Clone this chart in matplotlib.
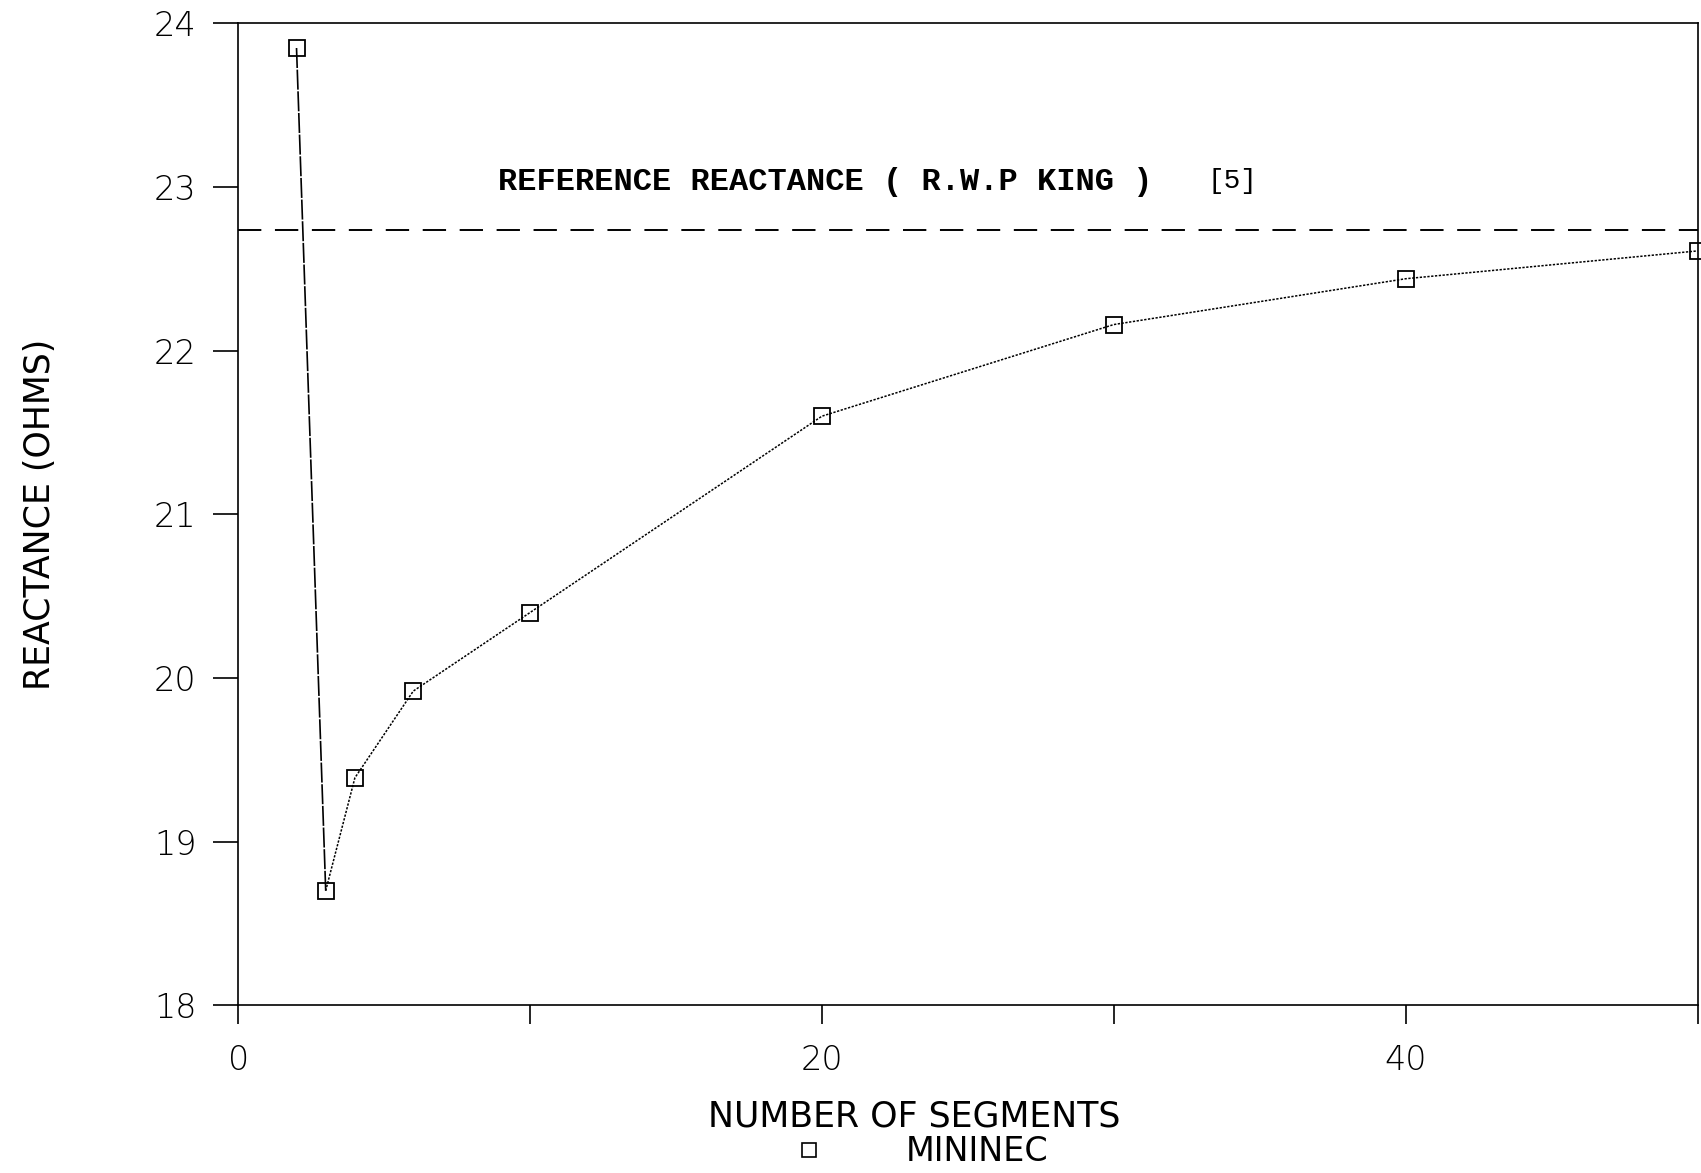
import matplotlib.pyplot as plt
from matplotlib.lines import Line2D

# ---------- data ----------
segments = [2, 3, 4, 6, 10, 20, 30, 40, 50]
reactance = [23.85, 18.70, 19.39, 19.92, 20.40, 21.60, 22.16, 22.44, 22.61]
reference_reactance = 22.74

x_ticks = [0, 10, 20, 30, 40, 50]
x_ticklabels = ["0", "", "20", "", "40", ""]
y_ticks = [18, 19, 20, 21, 22, 23, 24]

plt.rcParams.update({
    "font.family": ["DejaVu Sans"],
    "axes.linewidth": 1.2,
})

fig = plt.figure(figsize=(17.01, 11.73), dpi=100)
ax = fig.add_axes([0.140, 0.143, 0.858, 0.837])

# reference line (R.W.P King)
ax.axhline(reference_reactance, color="black", lw=1.4, ls=(0, (12, 7)))

# first segment drawn near-solid, the rest dotted like the plotter output
ax.plot(segments[:2], reactance[:2], color="black", lw=1.2, ls=(0, (12, 1)))
ax.plot(segments[1:], reactance[1:], color="black", lw=1.1, ls=(0, (1.5, 1)))
ax.plot(segments, reactance, ls="none", marker="s", ms=12, mfc="none",
        mec="black", mew=1.3, clip_on=False, zorder=5)

ax.text(8.9, 23.03, "REFERENCE REACTANCE ( R.W.P KING )", family="Liberation Mono",
        fontsize=23, fontweight="bold", va="center", ha="left")
ax.text(33.2, 23.04, "[5]", family="Liberation Mono", fontsize=20,
        va="center", ha="left")

ax.set_xlim(0, 50)
ax.set_ylim(18, 24)
ax.set_xticks(x_ticks)
ax.set_xticklabels(x_ticklabels)
ax.set_yticks(y_ticks)
ax.tick_params(axis="both", direction="out", length=18, width=1.2,
               labelsize=24, color="black")
ax.tick_params(axis="x", length=14, pad=14)
ax.tick_params(axis="y", pad=12)
for lab in ax.get_xticklabels() + ax.get_yticklabels():
    lab.set_fontweight("light")

ax.set_xlabel("NUMBER OF SEGMENTS", fontsize=25, labelpad=16)
ax.xaxis.label.set_x(0.463)
ax.set_ylabel("REACTANCE (OHMS)", fontsize=25, labelpad=70)

handle = Line2D([], [], ls="none", marker="s", ms=10, mfc="none", mec="black", mew=1.2)
fig.legend(handles=[handle], labels=["MININEC"], loc="center",
           bbox_to_anchor=(0.536, 0.018), frameon=False, fontsize=24,
           handletextpad=1.9, borderpad=0)

fig.savefig("out.png", dpi=100, facecolor="white")
